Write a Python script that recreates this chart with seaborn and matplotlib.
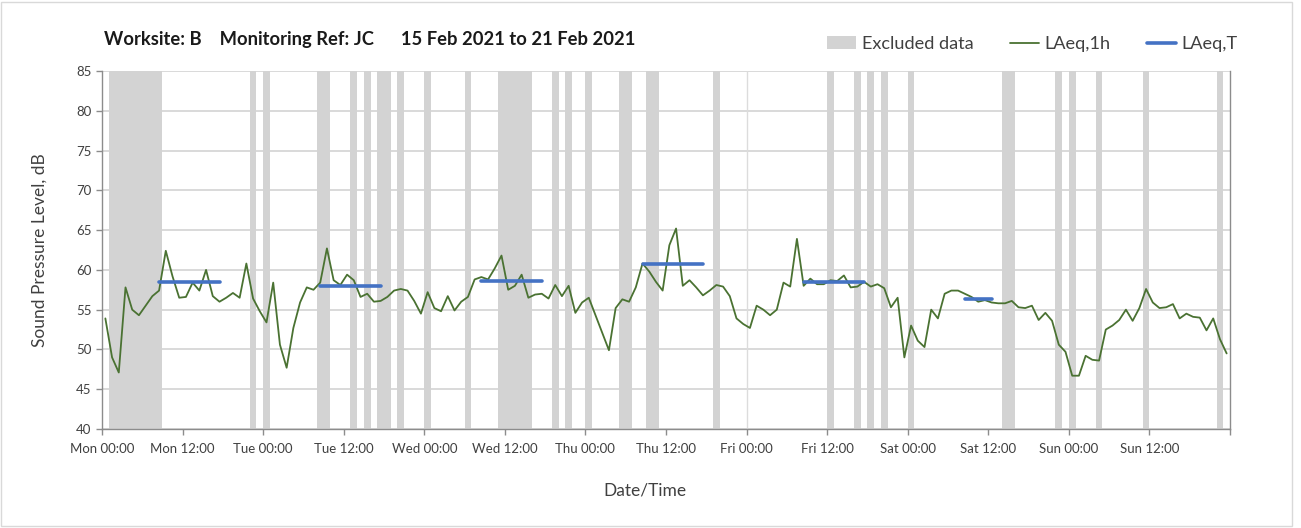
import numpy as np
import pandas as pd
import matplotlib.pyplot as plt
import seaborn as sns
from matplotlib.patches import Patch, Rectangle
from matplotlib.lines import Line2D

# hourly LAeq,1h, Mon 00:00 .. Sun 23:00 (one value per hour)
laeq_1h = [
    53.9, 49.0, 47.1, 57.8, 55.0, 54.3, 55.5, 56.7, 57.4, 62.4, 59.2, 56.5,
    56.6, 58.4, 57.4, 60.0, 56.7, 56.0, 56.5, 57.1, 56.5, 60.8, 56.4, 54.8,
    53.4, 58.4, 50.6, 47.7, 52.7, 55.9, 57.8, 57.5, 58.4, 62.7, 58.7, 58.1,
    59.4, 58.7, 56.6, 57.0, 56.0, 56.1, 56.6, 57.4, 57.6, 57.4, 56.1, 54.5,
    57.2, 55.2, 54.8, 56.7, 54.9, 56.0, 56.6, 58.8, 59.1, 58.8, 60.2, 61.8,
    57.5, 58.0, 59.4, 56.5, 56.9, 57.0, 56.4, 58.1, 56.7, 58.0, 54.6, 55.9,
    56.5, 54.3, 52.1, 49.9, 55.2, 56.3, 56.0, 57.8, 60.8, 59.8, 58.5, 57.4,
    63.1, 65.2, 58.0, 58.7, 57.8, 56.8, 57.4, 58.1, 57.9, 56.7, 53.9, 53.2,
    52.7, 55.5, 55.0, 54.3, 55.0, 58.4, 57.9, 63.9, 58.0, 58.9, 58.2, 58.2,
    58.7, 58.6, 59.3, 57.8, 57.9, 58.5, 57.9, 58.2, 57.7, 55.3, 56.5, 49.0,
    53.0, 51.1, 50.3, 55.0, 53.9, 57.0, 57.4, 57.4, 57.0, 56.6, 56.0, 56.2,
    55.9, 55.8, 55.8, 56.1, 55.3, 55.2, 55.5, 53.7, 54.6, 53.6, 50.6, 49.7,
    46.7, 46.7, 49.2, 48.7, 48.6, 52.5, 53.0, 53.7, 55.0, 53.6, 55.2, 57.6,
    55.9, 55.2, 55.3, 55.7, 53.9, 54.5, 54.1, 54.0, 52.4, 53.9, 51.3, 49.5,
]

# hours flagged as excluded data
excluded_hours = [1, 2, 3, 4, 5, 6, 7, 8, 22, 24, 32, 33, 37, 39, 41, 42, 44,
                  48, 54, 59, 60, 61, 62, 63, 67, 69, 72, 77, 78, 81, 82, 91,
                  108, 112, 114, 116, 120, 134, 135, 142, 144, 148, 155, 166]

# LAeq,T periods (start hour, end hour, level)
period_day = ['Mon', 'Tue', 'Wed', 'Thu', 'Fri', 'Sat']
period_start = [8, 32, 56, 80, 104, 128]
period_end = [18, 42, 66, 90, 114, 133]
laeq_t = [58.5, 58.0, 58.6, 60.8, 58.5, 56.4]

days = ['Mon', 'Tue', 'Wed', 'Thu', 'Fri', 'Sat', 'Sun']

green = '#4a7232'
blue = '#4472c4'
band = '#d3d3d3'
axis_grey = '#8c8c8c'

df = pd.DataFrame({'hour': np.arange(len(laeq_1h)) + 0.5, 'level': laeq_1h})

rows = []
for d, s, e, v in zip(period_day, period_start, period_end, laeq_t):
    for h in range(s, e):
        rows.append({'period': d, 'hour': h + 0.5, 'level': v})
df_t = pd.DataFrame(rows)

sns.set_theme(style='white')
plt.rcParams['font.family'] = ['Lato', 'DejaVu Sans']

fig = plt.figure(figsize=(13.01, 5.28), dpi=100)
ax = fig.add_axes([102 / 1301, 1 - 429 / 528, 1128 / 1301, 358 / 528])

ax.bar(np.array(excluded_hours) + 0.5, 45, bottom=40, width=1.0,
       color=band, linewidth=0, zorder=1)
ax.axvline(96, color='#dcdcdc', lw=1, zorder=1)

sns.lineplot(data=df, x='hour', y='level', color=green, lw=1.3, ax=ax, zorder=3)
sns.lineplot(data=df_t, x='hour', y='level', units='period', estimator=None,
             color=blue, lw=2.6, ax=ax, zorder=4)

ax.set_xlim(0, 168)
ax.set_ylim(40, 85)
ax.set_yticks(range(40, 86, 5))
ax.set_xticks(range(0, 169, 12))
ax.set_xticklabels([f'{d} {t}' for d in days for t in ('00:00', '12:00')] + [''])

ax.set_axisbelow(True)
ax.grid(axis='y', color='#d0d0d0', lw=1.1)
ax.grid(axis='x', visible=False)
for side in ['left', 'bottom', 'right']:
    ax.spines[side].set_color(axis_grey)
    ax.spines[side].set_linewidth(1)
ax.spines['top'].set_visible(False)
ax.tick_params(axis='both', colors='#404040', labelsize=9.5, length=4,
               width=1, direction='out', color=axis_grey)
ax.tick_params(axis='x', pad=6)
ax.tick_params(left=True, bottom=True)

ax.set_xlabel('Date/Time', fontsize=12.5, color='#404040')
ax.set_ylabel('Sound Pressure Level, dB', fontsize=12.5, color='#404040')
ax.xaxis.set_label_coords(0.481, -0.15)
ax.yaxis.set_label_coords(-0.048, 0.5)

fig.text(104 / 1301, 1 - 40 / 528,
         'Worksite: B    Monitoring Ref: JC      15 Feb 2021 to 21 Feb 2021',
         fontsize=13.2, fontweight='bold', ha='left', va='center', color='#1a1a1a')

handles = [Patch(facecolor=band, edgecolor='none', label='Excluded data'),
           Line2D([], [], color=green, lw=1.3, label='LAeq,1h'),
           Line2D([], [], color=blue, lw=2.6, label='LAeq,T')]
fig.legend(handles=handles, loc='center right', ncol=3, frameon=False,
           bbox_to_anchor=(1254 / 1301, 1 - 44 / 528), fontsize=13.1,
           handlelength=1.6, handletextpad=0.3, columnspacing=2.0,
           labelcolor='#404040')

fig.add_artist(Rectangle((0.001, 0.003), 1291 / 1301, 0.994,
                         transform=fig.transFigure, fill=False,
                         edgecolor='#d9d9d9', lw=1))

fig.savefig('out.png', dpi=100)
